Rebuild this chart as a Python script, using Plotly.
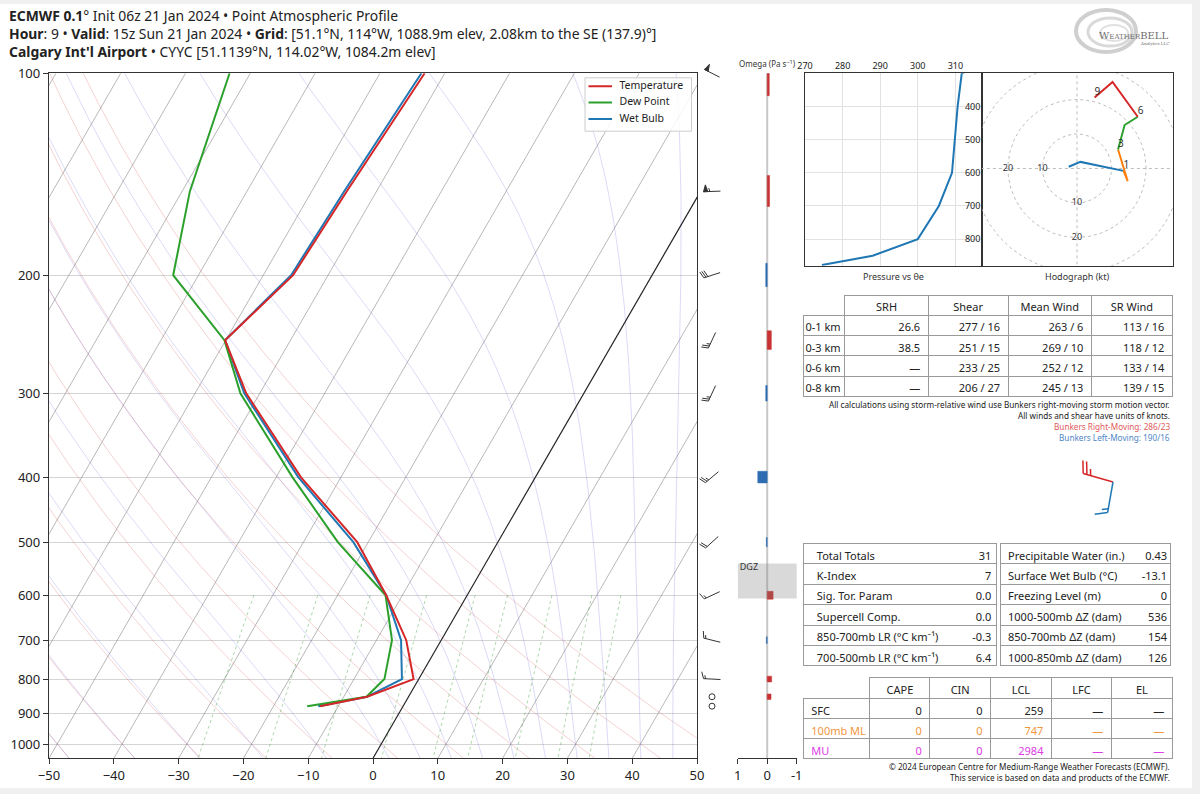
import numpy as np
import plotly.graph_objects as go

# ---------------------------------------------------------------- data
pressure = [878, 850, 800, 700, 600, 500, 400, 300, 250, 200, 150, 100]
temperature = [-12.8, -6.4, -0.8, -5.4, -12.5, -21.7, -36.2, -52.1, -60.1, -55.4, -54.6, -53.1]
dewpoint = [-14.8, -6.5, -5.3, -7.6, -12.6, -24.7, -37.5, -53.0, -60.2, -73.9, -78.8, -83.2]
wetbulb = [-13.1, -6.4, -2.6, -6.2, -12.5, -22.3, -36.6, -52.4, -60.1, -55.7, -55.0, -53.6]
profile_names = ["Temperature", "Dew Point", "Wet Bulb"]

wind_pressure = [878, 850, 800, 700, 600, 500, 400, 300, 250, 200, 150, 100]
wind_direction = [102, 208, 273, 284, 245, 228, 230, 205, 205, 252, 268, 297]
wind_speed = [2, 2, 14, 15, 13, 19, 23, 27, 25, 28, 57, 52]

omega_pressure = [100, 150, 200, 250, 300, 400, 500, 600, 700, 800, 850]
omega_value = [-0.07, -0.08, 0.05, -0.14, 0.05, 0.32, 0.03, -0.2, 0.03, -0.15, -0.13]

thetae_pressure = [250, 300, 400, 500, 600, 700, 800, 850, 878]
thetae_value = [322.0, 311.7, 310.6, 309.8, 309.1, 305.6, 300.0, 288.0, 274.5]

hodo_u = [-2.4, 1.0, 13.5, 14.7, 11.9, 13.8, 17.6, 10.3, 5.1]
hodo_v = [0.5, 1.9, -0.7, -3.7, 5.5, 12.6, 15.0, 25.1, 20.6]
hodo_height_labels = ["", "", "1", "", "3", "", "6", "", "9"]
hodo_layers = [(0, 2), (2, 4), (4, 6), (6, 8)]

bunkers_direction = [286, 190]
bunkers_speed = [23, 16]

kin_layers = ["0-1 km", "0-3 km", "0-6 km", "0-8 km"]
kin_srh = ["26.6", "38.5", "—", "—"]
kin_shear = ["277 / 16", "251 / 15", "233 / 25", "206 / 27"]
kin_mean = ["263 / 6", "269 / 10", "252 / 12", "245 / 13"]
kin_srwind = ["113 / 16", "118 / 12", "133 / 14", "139 / 15"]

idx_left_names = ["Total Totals", "K-Index", "Sig. Tor. Param", "Supercell Comp.",
                  "850-700mb LR (°C km⁻¹)", "700-500mb LR (°C km⁻¹)"]
idx_left_values = ["31", "7", "0.0", "0.0", "-0.3", "6.4"]
idx_right_names = ["Precipitable Water (in.)", "Surface Wet Bulb (°C)", "Freezing Level (m)",
                   "1000-500mb ΔZ (dam)", "850-700mb ΔZ (dam)", "1000-850mb ΔZ (dam)"]
idx_right_values = ["0.43", "-13.1", "0", "536", "154", "126"]

parcel_names = ["SFC", "100mb ML", "MU"]
parcel_cape = ["0", "0", "0"]
parcel_cin = ["0", "0", "0"]
parcel_lcl = ["259", "747", "2984"]
parcel_lfc = ["—", "—", "—"]
parcel_el = ["—", "—", "—"]

# ---------------------------------------------------------------- layout constants
W, H = 1200, 794
F = "Noto Sans"
P_BOT, P_TOP = 1050.0, 100.0
SKEW = 59.8
MAIN_TOP, MAIN_BOT = 73.3, 758.3
PPD = (MAIN_BOT - MAIN_TOP) / np.log10(P_BOT / P_TOP)
BARB_TOP = 52.0
BARB_X = 712.0
BARB_LEN = 17.0
BUNK_X, BUNK_Y = 1113.0, 482.0
BUNK_LEN = 31.0
OMEGA_HALF = 8.0
C_T, C_TD, C_TW = "#d62728", "#2ca02c", "#1f77b4"
GRID = "#d4d4d4"
AX = "#333333"
LEG_BOX = (585.0, 691.5, 77.8, 131.2)
BLANK = "\u00a0"


def xd(a, b):
    return [a / W, b / W]


def yd(top, bottom):
    return [1 - bottom / H, 1 - top / H]


def skew_x(t, p):
    return np.asarray(t, float) + SKEW * np.log10(P_BOT / np.asarray(p, float))


def joined(curves):
    xs, ys = [], []
    for cx, cy in curves:
        xs += list(cx) + [None]
        ys += list(cy) + [None]
    return xs, ys


def nb(s):
    return s.replace(" ", "\u00a0")


fig = go.Figure()

# ---------------------------------------------------------------- skew-T background
p_fine = np.arange(1050.0, 99.0, -2.0)

iso = [(skew_x([t, t], [P_BOT, P_TOP]), [P_BOT, P_TOP]) for t in range(-160, 60, 10) if t != 0]
xs, ys = joined(iso)
fig.add_trace(go.Scatter(x=xs, y=ys, mode="lines", line=dict(color="rgba(105,105,105,0.6)", width=0.8),
                         hoverinfo="skip", showlegend=False, xaxis="x", yaxis="y"))

dry = []
for t0 in np.arange(-50, 51, 10):
    tt = (t0 + 273.15) * (p_fine / 1000.0) ** 0.28571 - 273.15
    dry.append((skew_x(tt, p_fine), p_fine))
xs, ys = joined(dry)
fig.add_trace(go.Scatter(x=xs, y=ys, mode="lines", line=dict(color="rgba(220,90,90,0.35)", width=0.8),
                         hoverinfo="skip", showlegend=False, xaxis="x", yaxis="y"))


def moist_curve(t0c, pg):
    Rd, Cp, Lv, eps = 287.04749, 1004.6662, 2.50084e6, 0.622

    def f(p, T):
        es = 6.112 * np.exp(17.67 * (T - 273.15) / (T - 29.65))
        rs = eps * es / (p - es)
        return (Rd * T + Lv * rs) / (Cp + Lv * Lv * rs * eps / (Rd * T * T)) / p

    def rk4(p, T, h):
        k1 = f(p, T)
        k2 = f(p + h / 2, T + h * k1 / 2)
        k3 = f(p + h / 2, T + h * k2 / 2)
        k4 = f(p + h, T + h * k3)
        return T + h * (k1 + 2 * k2 + 2 * k3 + k4) / 6

    T = np.empty_like(pg)
    i0 = int(np.argmin(np.abs(pg - 1000.0)))
    T[i0] = t0c + 273.15
    for i in range(i0, len(pg) - 1):
        T[i + 1] = rk4(pg[i], T[i], pg[i + 1] - pg[i])
    for i in range(i0, 0, -1):
        T[i - 1] = rk4(pg[i], T[i], pg[i - 1] - pg[i])
    return T - 273.15


moist = []
for t0 in np.concatenate((np.arange(-50, 0, 10), np.arange(0, 51, 5))):
    moist.append((skew_x(moist_curve(float(t0), p_fine), p_fine), p_fine))
xs, ys = joined(moist)
fig.add_trace(go.Scatter(x=xs, y=ys, mode="lines", line=dict(color="rgba(90,90,220,0.28)", width=0.8),
                         hoverinfo="skip", showlegend=False, xaxis="x", yaxis="y"))

p_mix = np.linspace(600, 1050, 40)
mix = []
for w in [0.0004, 0.001, 0.002, 0.004, 0.007, 0.01, 0.016, 0.024, 0.032]:
    e = p_mix * w / (0.622 + w)
    lg = np.log(e / 6.112)
    td = 243.5 * lg / (17.67 - lg)
    mix.append((skew_x(td, p_mix), p_mix))
xs, ys = joined(mix)
fig.add_trace(go.Scatter(x=xs, y=ys, mode="lines", line=dict(color="rgba(40,150,40,0.55)", width=0.7, dash="dot"),
                         hoverinfo="skip", showlegend=False, xaxis="x", yaxis="y"))

fig.add_trace(go.Scatter(x=skew_x([0, 0], [P_BOT, P_TOP]), y=[P_BOT, P_TOP], mode="lines",
                         line=dict(color="#222222", width=1.2), hoverinfo="skip", showlegend=False,
                         xaxis="x", yaxis="y"))

# ---------------------------------------------------------------- profiles
for vals, name, col in [(wetbulb, profile_names[2], C_TW), (dewpoint, profile_names[1], C_TD),
                        (temperature, profile_names[0], C_T)]:
    fig.add_trace(go.Scatter(x=skew_x(vals, pressure), y=pressure, mode="lines", name=name,
                             line=dict(color=col, width=2), showlegend=False, xaxis="x", yaxis="y"))

# legend (drawn in its own pixel-unit axes)
lx0, lx1, ly0, ly1 = LEG_BOX
fig.add_trace(go.Scatter(x=[lx0, lx1, lx1, lx0, lx0], y=[ly0, ly0, ly1, ly1, ly0], mode="lines", fill="toself",
                         fillcolor="rgba(255,255,255,0.85)", line=dict(color="#cccccc", width=1),
                         hoverinfo="skip", showlegend=False, xaxis="x7", yaxis="y7"))
for i, (name, col) in enumerate(zip(profile_names, [C_T, C_TD, C_TW])):
    yy = ly0 + 8.5 + 16.3 * i
    fig.add_trace(go.Scatter(x=[lx0 + 3.5, lx0 + 27], y=[yy, yy], mode="lines", line=dict(color=col, width=2),
                             hoverinfo="skip", showlegend=False, xaxis="x7", yaxis="y7"))
    fig.add_trace(go.Scatter(x=[lx0 + 34.5], y=[yy], mode="text", text=[name], textposition="middle right",
                             textfont=dict(family=F, size=10.5, color="#222"), hoverinfo="skip",
                             showlegend=False, xaxis="x7", yaxis="y7"))


# ---------------------------------------------------------------- wind barbs
def barb_parts(direction, speed, L):
    rad = np.deg2rad(direction)
    d = np.array([np.sin(rad), np.cos(rad)])
    n = np.array([d[1], -d[0]])
    spd = 5 * int(round(speed / 5.0))
    if spd == 0:
        return d, None, None
    flags, rem = divmod(spd, 50)
    full, rem = divmod(rem, 10)
    half = rem >= 5
    sp, fh, fw = 0.125 * L, 0.4 * L, 0.25 * L
    lines = [[np.zeros(2), d * L]]
    tris = []
    off = L
    for _ in range(flags):
        if off != L:
            off += sp / 2
        tris.append([d * off, d * (off - fw / 2) + n * fh, d * (off - fw)])
        off -= fw + sp
    for _ in range(full):
        lines.append([d * off, d * (off + fw / 2) + n * fh])
        off -= sp
    if half:
        if off == L:
            off -= 1.5 * sp
        lines.append([d * off, d * (off + fw / 4) + n * fh / 2])
    return d, lines, tris


bl_x, bl_y, bt_x, bt_y, calm_p = [], [], [], [], []
for p, dr, sp in zip(wind_pressure, wind_direction, wind_speed):
    d, lines, tris = barb_parts(dr, sp, BARB_LEN)
    if lines is None:
        calm_p.append(p)
        continue
    shift = -d * BARB_LEN / 2
    for seg in lines:
        for pt in seg:
            q = pt + shift
            bl_x.append(BARB_X + q[0])
            bl_y.append(p * 10 ** (-q[1] / PPD))
        bl_x.append(None)
        bl_y.append(None)
    for tri in tris:
        for pt in tri + [tri[0]]:
            q = pt + shift
            bt_x.append(BARB_X + q[0])
            bt_y.append(p * 10 ** (-q[1] / PPD))
        bt_x.append(None)
        bt_y.append(None)

fig.add_trace(go.Scatter(x=bl_x, y=bl_y, mode="lines", line=dict(color="#333", width=1),
                         hoverinfo="skip", showlegend=False, xaxis="x3", yaxis="y3"))
fig.add_trace(go.Scatter(x=bt_x, y=bt_y, mode="lines", fill="toself", fillcolor="#333",
                         line=dict(color="#333", width=1), hoverinfo="skip", showlegend=False,
                         xaxis="x3", yaxis="y3"))
fig.add_trace(go.Scatter(x=[BARB_X] * len(calm_p), y=calm_p, mode="markers",
                         marker=dict(symbol="circle-open", size=6, color="#333", line=dict(width=1)),
                         hoverinfo="skip", showlegend=False, xaxis="x3", yaxis="y3"))

# ---------------------------------------------------------------- omega column
fig.add_trace(go.Scatter(x=[0, 0], y=[P_BOT, P_TOP], mode="lines", line=dict(color="#c8c8c8", width=2),
                         hoverinfo="skip", showlegend=False, xaxis="x2", yaxis="y2"))
for sign, col in [(-1, "#c83232"), (1, "#2f6db3")]:
    ox, oy = [], []
    for p, w in zip(omega_pressure, omega_value):
        if np.sign(w) != sign:
            continue
        ox += [0, w, w, 0, 0, None]
        oy += [p - OMEGA_HALF, p - OMEGA_HALF, p + OMEGA_HALF, p + OMEGA_HALF, p - OMEGA_HALF, None]
    fig.add_trace(go.Scatter(x=ox, y=oy, mode="lines", fill="toself", fillcolor=col,
                             line=dict(color=col, width=0.5), hoverinfo="skip", showlegend=False,
                             xaxis="x2", yaxis="y2"))


def crossing_from_top(tc):
    for i in range(len(pressure) - 1, 0, -1):
        t1, t2 = temperature[i], temperature[i - 1]
        if (t1 - tc) * (t2 - tc) <= 0 and t1 != t2:
            f = (tc - t1) / (t2 - t1)
            lp1, lp2 = np.log10(pressure[i]), np.log10(pressure[i - 1])
            return 10 ** (lp1 + f * (lp2 - lp1))
    return None


dgz_top, dgz_bot = crossing_from_top(-18.0), crossing_from_top(-12.0)
fig.add_trace(go.Scatter(x=[1.0, -1.02, -1.02, 1.0, 1.0], y=[dgz_bot, dgz_bot, dgz_top, dgz_top, dgz_bot],
                         mode="lines", fill="toself", fillcolor="rgba(128,128,128,0.3)",
                         line=dict(width=0), hoverinfo="skip", showlegend=False, xaxis="x2", yaxis="y2"))
fig.add_trace(go.Scatter(x=[0.93], y=[dgz_top], mode="text", text=["DGZ"], textposition="bottom right",
                         textfont=dict(family=F, size=9, color="#333"), hoverinfo="skip", showlegend=False,
                         xaxis="x2", yaxis="y2"))

# ---------------------------------------------------------------- theta-e inset
fig.add_trace(go.Scatter(x=thetae_value, y=thetae_pressure, mode="lines", line=dict(color=C_TW, width=2),
                         hoverinfo="skip", showlegend=False, xaxis="x4", yaxis="y4"))

# ---------------------------------------------------------------- hodograph
th = np.linspace(0, 2 * np.pi, 241)
rings = [(r * np.cos(th), r * np.sin(th)) for r in [10, 20, 30]]
rings += [([-40, 40], [0, 0]), ([0, 0], [-40, 40])]
xs, ys = joined(rings)
fig.add_trace(go.Scatter(x=xs, y=ys, mode="lines", line=dict(color="#bdbdbd", width=1, dash="dot"),
                         hoverinfo="skip", showlegend=False, xaxis="x5", yaxis="y5"))
fig.add_trace(go.Scatter(x=[-20, -10, 0, 0], y=[0, 0, -10, -20], mode="text", text=["20", "10", "10", "20"],
                         textfont=dict(family=F, size=9, color="#333"), hoverinfo="skip", showlegend=False,
                         xaxis="x5", yaxis="y5"))
for (a, b), col in zip(hodo_layers, [C_TW, "#ff7f0e", C_TD, C_T]):
    fig.add_trace(go.Scatter(x=hodo_u[a:b + 1], y=hodo_v[a:b + 1], mode="lines", line=dict(color=col, width=2),
                             hoverinfo="skip", showlegend=False, xaxis="x5", yaxis="y5"))
lab_i = [i for i, s in enumerate(hodo_height_labels) if s]
fig.add_trace(go.Scatter(x=[hodo_u[i] for i in lab_i], y=[hodo_v[i] for i in lab_i], mode="text",
                         text=[hodo_height_labels[i] for i in lab_i], textposition="top right",
                         textfont=dict(family=F, size=10, color="#333"), hoverinfo="skip", showlegend=False,
                         xaxis="x5", yaxis="y5"))

# ---------------------------------------------------------------- bunkers storm motion barbs
for dr, sp, col in zip(bunkers_direction, bunkers_speed, [C_T, C_TW]):
    d, lines, tris = barb_parts(dr, sp, BUNK_LEN)
    bx, by = [], []
    for seg in lines:
        for pt in seg:
            bx.append(BUNK_X + pt[0])
            by.append(BUNK_Y - pt[1])
        bx.append(None)
        by.append(None)
    fig.add_trace(go.Scatter(x=bx, y=by, mode="lines", line=dict(color=col, width=1.5),
                             hoverinfo="skip", showlegend=False, xaxis="x6", yaxis="y6"))

# ---------------------------------------------------------------- tables
tfont = dict(family=F, size=11, color="#222")
LINE = "#9a9a9a"
CLEAR = "rgba(0,0,0,0)"

fig.add_trace(go.Table(
    domain=dict(x=xd(803.3, 1172.7), y=yd(295, 402)),
    columnwidth=[41.7, 83.3, 80, 83.4, 81],
    header=dict(values=[BLANK, "SRH", "Shear", "Mean Wind", "SR Wind"], height=20, align="center",
                line=dict(color=[CLEAR, LINE, LINE, LINE, LINE], width=1), fill=dict(color="white"), font=tfont),
    cells=dict(values=[[BLANK] * len(kin_layers), kin_srh, [nb(s) for s in kin_shear],
                       [nb(s) for s in kin_mean], [nb(s) for s in kin_srwind]], height=20.4,
               align=["left", "right", "right", "right", "right"],
               line=dict(color=LINE, width=1), fill=dict(color="white"), font=tfont)))
fig.add_trace(go.Table(
    domain=dict(x=xd(797.5, 880), y=yd(295, 402)),
    header=dict(values=[BLANK], height=20, line=dict(color=CLEAR, width=1), fill=dict(color=CLEAR), font=tfont),
    cells=dict(values=[[nb(s) for s in kin_layers]], height=20.4, align="left",
               line=dict(color=CLEAR, width=1), fill=dict(color=CLEAR), font=tfont)))

for (x0, x1, vend, pad), names, vals in [((803.3, 997.3, 999.7, "\u2002"), idx_left_names, idx_left_values),
                                         ((1000.0, 1171.0, 1176.0, ""), idx_right_names, idx_right_values)]:
    labels = [pad + nb(s) for s in names]
    fig.add_trace(go.Table(
        domain=dict(x=xd(x0, x1), y=yd(543.3, 672)),
        header=dict(values=[labels[0]], height=20.45, align="left",
                    line=dict(color=LINE, width=1), fill=dict(color="white"), font=tfont),
        cells=dict(values=[labels[1:]], height=20.45, align="left",
                   line=dict(color=LINE, width=1), fill=dict(color="white"), font=tfont)))
    fig.add_trace(go.Table(
        domain=dict(x=xd(x0, vend), y=yd(543.3, 672)),
        header=dict(values=[vals[0]], height=20.45, align="right",
                    line=dict(color=CLEAR, width=1), fill=dict(color=CLEAR), font=tfont),
        cells=dict(values=[vals[1:]], height=20.45, align="right",
                   line=dict(color=CLEAR, width=1), fill=dict(color=CLEAR), font=tfont)))

row_cols = ["#222", "#f0963c", "#dd3ce6"]
fig.add_trace(go.Table(
    domain=dict(x=xd(803.3, 1172.7), y=yd(677.3, 763)),
    columnwidth=[66.7, 60, 60.7, 61, 60, 61],
    header=dict(values=[BLANK, "CAPE", "CIN", "LCL", "LFC", "EL"], height=21, align="center",
                line=dict(color=[CLEAR] + [LINE] * 5, width=1), fill=dict(color="white"), font=tfont),
    cells=dict(values=[[nb(s) for s in parcel_names], parcel_cape, parcel_cin, parcel_lcl, parcel_lfc, parcel_el],
               height=20, align=["left"] + ["right"] * 5, line=dict(color=LINE, width=1),
               fill=dict(color="white"), font=dict(family=F, size=11, color=[row_cols] * 6))))

# ---------------------------------------------------------------- axes
ylog_range = [np.log10(P_BOT), np.log10(P_TOP)]
barb_range = [np.log10(P_BOT), np.log10(P_TOP) - (MAIN_TOP - BARB_TOP) / PPD]
p_ticks = [100, 200, 300, 400, 500, 600, 700, 800, 900, 1000]
tick_font = dict(family=F, size=13, color="#222")
hidden = dict(visible=False, showgrid=False, zeroline=False, automargin=False)
small = dict(family=F, size=9, color="#222")

fig.update_layout(
    width=W, height=H, autosize=False, margin=dict(l=0, r=0, t=0, b=0, pad=0, autoexpand=False),
    paper_bgcolor="#f0f0f0", plot_bgcolor="rgba(0,0,0,0)",
    font=dict(family=F, color="#222"), showlegend=False,
    xaxis=dict(domain=xd(49, 697), range=[-50, 50], tickvals=list(range(-50, 51, 10)), anchor="y",
               showgrid=False, zeroline=False, showline=True, mirror=True, linecolor=AX, linewidth=1.3,
               ticks="outside", ticklen=5, tickcolor=AX, tickfont=tick_font, automargin=False),
    yaxis=dict(domain=yd(MAIN_TOP, MAIN_BOT), type="log", range=ylog_range, tickvals=p_ticks,
               ticktext=[str(v) for v in p_ticks], anchor="x", showgrid=True, gridcolor=GRID, gridwidth=1.3,
               zeroline=False, showline=True, mirror=True, linecolor=AX, linewidth=1.3,
               ticks="outside", ticklen=5, tickcolor=AX, tickfont=tick_font, automargin=False),
    xaxis2=dict(domain=xd(737.7, 796.7), range=[1, -1], tickvals=[1, 0, -1], ticktext=["1", "0", "-1"],
                anchor="y2", showgrid=False, zeroline=False, showline=True, linecolor=AX, linewidth=1.3,
                ticks="outside", ticklen=5, tickcolor=AX, tickfont=tick_font, automargin=False),
    yaxis2=dict(domain=yd(MAIN_TOP, MAIN_BOT), type="log", range=ylog_range, anchor="x2", **hidden),
    xaxis3=dict(domain=xd(697, 737.7), range=[697, 737.7], anchor="y3", **hidden),
    yaxis3=dict(domain=yd(BARB_TOP, MAIN_BOT), type="log", range=barb_range, anchor="x3", **hidden),
    xaxis4=dict(domain=xd(805, 981.7), range=[270, 317], side="top", tickvals=[270, 280, 290, 300, 310],
                anchor="y4", showgrid=True, gridcolor="#e2e2e2", gridwidth=1.3, zeroline=False,
                showline=True, mirror=True, linecolor=AX, linewidth=1.3, ticks="", tickfont=small,
                automargin=False),
    yaxis4=dict(domain=yd(73.3, 265.7), range=[880, 300], side="right", tickvals=[400, 500, 600, 700, 800],
                ticklabelposition="inside", anchor="x4", showgrid=True, gridcolor="#e2e2e2", gridwidth=1.3,
                zeroline=False, showline=True, mirror=True, linecolor=AX, linewidth=1.3, ticks="",
                tickfont=small, automargin=False),
    xaxis5=dict(domain=xd(981.7, 1173.3), range=[-27.6, 27.9], anchor="y5", showticklabels=False,
                showgrid=False, zeroline=False, showline=True, mirror=True, linecolor=AX, linewidth=1.3,
                automargin=False),
    yaxis5=dict(domain=yd(73.3, 265.7), range=[-28.2, 27.6], anchor="x5", showticklabels=False,
                showgrid=False, zeroline=False, showline=True, mirror=True, linecolor=AX, linewidth=1.3,
                automargin=False),
    xaxis6=dict(domain=xd(1050, 1160), range=[1050, 1160], anchor="y6", **hidden),
    yaxis6=dict(domain=yd(445, 535), range=[535, 445], anchor="x6", **hidden),
    xaxis7=dict(domain=xd(LEG_BOX[0] - 1, LEG_BOX[1] + 1), range=[LEG_BOX[0] - 1, LEG_BOX[1] + 1],
                anchor="y7", **hidden),
    yaxis7=dict(domain=yd(LEG_BOX[2] - 1, LEG_BOX[3] + 1), range=[LEG_BOX[3] + 1, LEG_BOX[2] - 1],
                anchor="x7", **hidden),
)

# white page area inside grey frame
fig.add_shape(type="rect", xref="paper", yref="paper", x0=0, x1=1192 / W, y0=1 - 788 / H, y1=1 - 4 / H,
              fillcolor="white", line=dict(width=0), layer="below")

# logo swirl
for cx, cy, rx, ry, wdt, colr in [(1106, 31, 30, 21, 4, "#cfcfcf"), (1110, 32, 22, 14, 3, "#d9d9d9"),
                                  (1114, 33, 14, 8, 2, "#e0e0e0")]:
    fig.add_shape(type="circle", xref="paper", yref="paper", x0=(cx - rx) / W, x1=(cx + rx) / W,
                  y0=1 - (cy + ry) / H, y1=1 - (cy - ry) / H, line=dict(color=colr, width=wdt))

ann = []


def text(x, y, s, size, color="#222", xanchor="left", yanchor="middle", family=F):
    ann.append(dict(x=x / W, y=1 - y / H, xref="paper", yref="paper", text=s, showarrow=False, align=xanchor,
                    xanchor=xanchor, yanchor=yanchor, font=dict(family=family, size=size, color=color)))


text(7, 33.6, "<b>ECMWF 0.1</b>° Init 06z 21 Jan 2024 • Point Atmospheric Profile<br>"
              "<b>Hour</b>: 9 • <b>Valid</b>: 15z Sun 21 Jan 2024 • <b>Grid</b>: [51.1°N, 114°W, 1088.9m elev, "
              "2.08km to the SE (137.9)°]<br>"
              "<b>Calgary Int'l Airport</b> • CYYC [51.1139°N, 114.02°W, 1084.2m elev]", 13.9)
text(1134, 35, "W<span style='font-size:7px'>EATHER</span>BELL", 10, "#6e6e6e", "center", family="DejaVu Serif")
text(1154, 44, "Analytics LLC", 4, "#6e6e6e", "center", family="DejaVu Serif")
text(767, 63, "Omega (Pa s<sup>−1</sup>)", 8, "#333", "center")
text(893, 276, "Pressure vs θe", 9, "#333", "center")
text(1077, 276, "Hodograph (kt)", 9, "#333", "center")
text(1172, 404, "All calculations using storm-relative wind use Bunkers right-moving storm motion vector.",
     8.2, "#222", "right")
text(1172, 415, "All winds and shear have units of knots.", 8.2, "#222", "right")
text(1172, 427, "Bunkers Right-Moving: 286/23", 8.2, "#e05a5a", "right")
text(1172, 438, "Bunkers Left-Moving: 190/16", 8.2, "#4f86c6", "right")
text(1172, 766, "© 2024 European Centre for Medium-Range Weather Forecasts (ECMWF).", 8.2, "#222", "right")
text(1172, 777, "This service is based on data and products of the ECMWF.", 8.2, "#222", "right")
fig.update_layout(annotations=ann)

fig.write_html("out.html")
